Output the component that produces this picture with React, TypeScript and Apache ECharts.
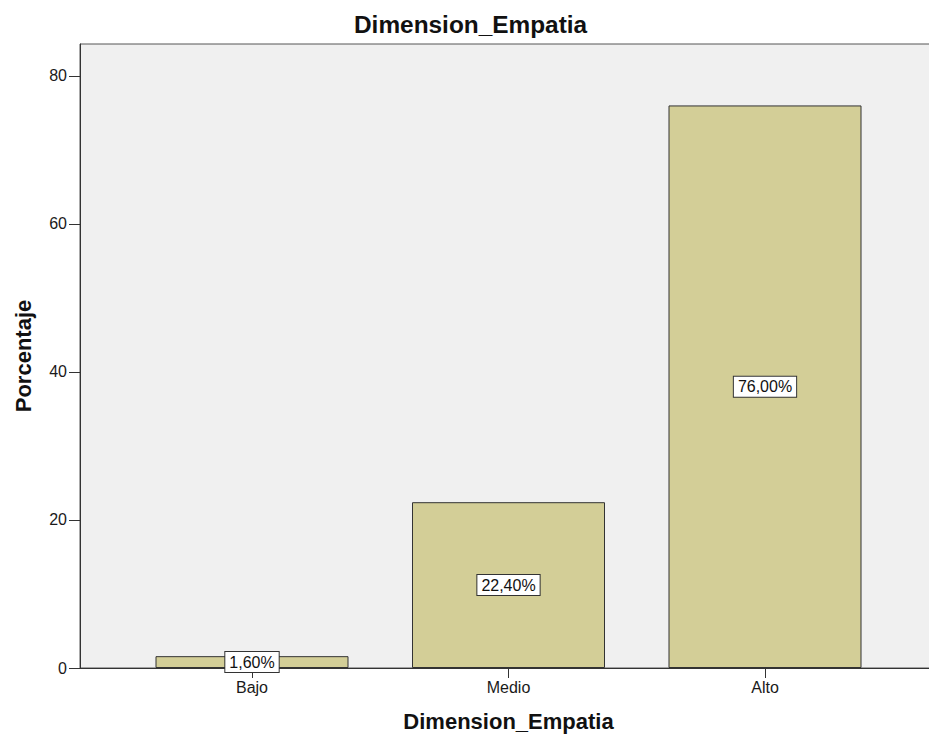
import React, { useEffect, useRef } from "react";
import * as echarts from "echarts";

const categories = ["Bajo", "Medio", "Alto"];
const percentages = [1.6, 22.4, 76.0];
const yTicks = [0, 20, 40, 60, 80];
const chartTitle = "Dimension_Empatia";
const xAxisTitle = "Dimension_Empatia";
const yAxisTitle = "Porcentaje";

const FONT = "'Liberation Sans', Arial, sans-serif";
const Y_MAX = 84.3;

export default function App() {
  const ref = useRef<HTMLDivElement>(null);
  useEffect(() => {
    if (!ref.current) return;
    const chart = echarts.init(ref.current, undefined, { renderer: "svg" });
    const option: any = {
      animation: false,
      backgroundColor: "#ffffff",
      title: {
        text: chartTitle,
        left: 354,
        top: 12,
        padding: 0,
        textStyle: { fontFamily: FONT, fontSize: 24.4, fontWeight: "bold", color: "#111" },
      },
      grid: [
        {
          left: 80,
          top: 44,
          width: 857,
          height: 624,
          show: true,
          backgroundColor: "#f0f0f0",
          borderColor: "#555",
          borderWidth: 1,
          outerBoundsMode: "none",
          containLabel: false,
        },
        {
          left: 123.75,
          top: 44,
          width: 769.5,
          height: 624,
          outerBoundsMode: "none",
          containLabel: false,
        },
      ],
      xAxis: [
        {
          type: "value",
          gridIndex: 0,
          min: 0,
          max: 1,
          name: xAxisTitle,
          nameLocation: "middle",
          nameGap: 42,
          nameTextStyle: { fontFamily: FONT, fontSize: 22, fontWeight: "bold", color: "#111" },
          axisLine: { show: true, lineStyle: { color: "#333", width: 1 } },
          axisTick: { show: false },
          axisLabel: { show: false },
          splitLine: { show: false },
        },
        {
          type: "category",
          gridIndex: 1,
          data: categories,
          axisLine: { show: false },
          axisTick: { show: true, alignWithLabel: true, length: 10, lineStyle: { color: "#333" } },
          axisLabel: { margin: 11, fontFamily: FONT, fontSize: 16, color: "#1a1a1a" },
          splitLine: { show: false },
        },
      ],
      yAxis: [
        {
          type: "value",
          gridIndex: 0,
          min: 0,
          max: Y_MAX,
          name: yAxisTitle,
          nameLocation: "middle",
          nameGap: 46,
          nameTextStyle: { fontFamily: FONT, fontSize: 22, fontWeight: "bold", color: "#111" },
          axisLine: { show: true, lineStyle: { color: "#333", width: 1 } },
          axisTick: { show: true, length: 11, lineStyle: { color: "#333" }, customValues: yTicks },
          axisLabel: {
            margin: 13,
            fontFamily: FONT,
            fontSize: 16,
            color: "#1a1a1a",
            customValues: yTicks,
          },
          splitLine: { show: false },
        },
        {
          type: "value",
          gridIndex: 1,
          min: 0,
          max: Y_MAX,
          show: false,
          splitLine: { show: false },
        },
      ],
      series: [
        {
          type: "bar",
          xAxisIndex: 1,
          yAxisIndex: 1,
          data: percentages,
          barWidth: 193,
          itemStyle: { color: "#d3ce97", borderColor: "#333", borderWidth: 1 },
          label: {
            show: true,
            position: "inside",
            formatter: (p: any) => p.value.toFixed(2).replace(".", ",") + "%",
            fontFamily: FONT,
            fontSize: 16,
            lineHeight: 16,
            color: "#111",
            backgroundColor: "#ffffff",
            borderColor: "#333",
            borderWidth: 1,
            padding: [2, 4, 2, 4],
          },
        },
      ],
    };
    chart.setOption(option);
    return () => chart.dispose();
  }, []);
  return (
    <div
      ref={ref}
      style={{ position: "fixed", left: 0, top: 0, width: 929, height: 738 }}
    />
  );
}
